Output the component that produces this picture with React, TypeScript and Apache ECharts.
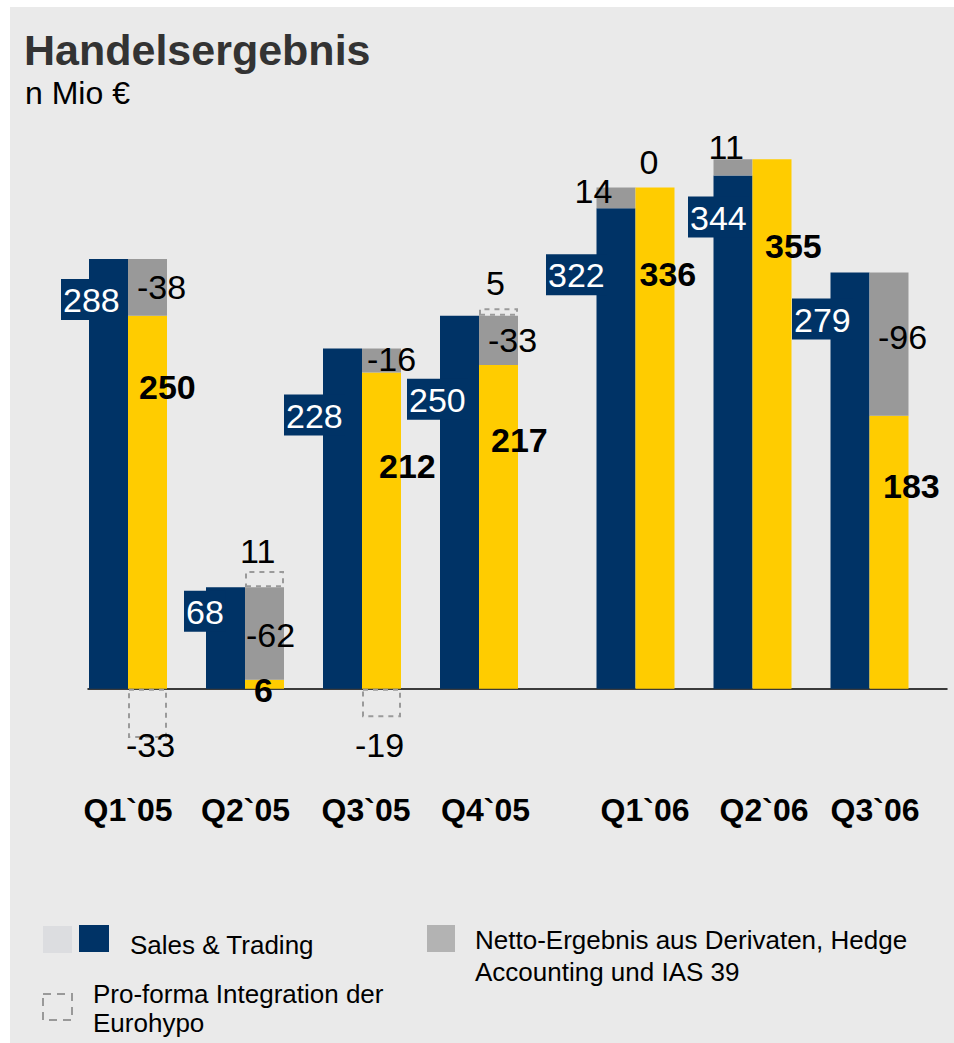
import React, { useEffect, useRef } from "react";
import * as echarts from "echarts";

// ---------------- data ----------------
const QUARTERS = ["Q1`05", "Q2`05", "Q3`05", "Q4`05", "Q1`06", "Q2`06", "Q3`06"];
const SALES_TRADING = [288, 68, 228, 250, 322, 344, 279];
const DERIVATIVES = [-38, -62, -16, -33, 14, 11, -96];
const TOTAL = [250, 6, 212, 217, 336, 355, 183];
const EUROHYPO: (number | null)[] = [-33, 11, -19, 5, 0, null, null];
const COUNT_2005 = 4;
const Y_MIN = -60;
const Y_MAX = 400;

// ---------------- label layout (px offsets from each bar's top-left) ----------------
const ST_LABEL_POS = [[-28, 20], [-22, 3.5], [-39, 46], [-33, 63], [-50.5, 46], [-25.5, 21], [-38.5, 26]];
const DERIV_LABEL_POS = [[9, 28], [1, 47.5], [5, 10], [9, 24], [-22, 3.5], [-5, -12], [8.5, 64]];
const TOTAL_LABEL_POS = [[11, 71], [9, 10], [17, 93.5], [12, 75], [4, 86.5], [12.5, 87], [13.5, 70]];
const EURO_LABEL_POS = [[-2, 56], [-5, -20], [-7, 56], [7, -25], [4, -25.5], [0, 0], [0, 0]];
// horizontal shift of each category label (px) relative to the bar pair centre
const CAT_LABEL_SHIFT = [0, 0.5, 4, 6.5, 9.5, 11.5, 5.5];

const NAVY = "#003366";
const YELLOW = "#ffcc00";
const GRAY = "#999999";
const BG = "#eaeaea";
const FONT = "'Liberation Sans', Arial, Helvetica, sans-serif";
const BAR_W = 39;
const NUM_SIZE = 34;

const GRID_TOP = 92;
const GRID_H = 686.3;

function buildSeries(g: number, start: number, end: number) {
  const idx: number[] = [];
  for (let i = start; i < end; i++) idx.push(i);
  const common = {
    type: "bar" as const,
    xAxisIndex: g,
    yAxisIndex: g,
    barWidth: BAR_W,
    barGap: "0%",
    emphasis: { disabled: true },
  };
  const numLabel = {
    show: true,
    align: "left",
    verticalAlign: "middle",
    fontFamily: FONT,
    fontSize: NUM_SIZE,
    color: "#000",
  };
  return [
    {
      ...common,
      name: "Sales & Trading",
      stack: "L" + g,
      itemStyle: { color: NAVY },
      label: {
        show: true,
        align: "left",
        verticalAlign: "top",
        fontFamily: FONT,
        fontSize: NUM_SIZE,
        lineHeight: 36,
        color: "#fff",
        backgroundColor: NAVY,
        padding: [3, 2, 2, 2],
      },
      data: idx.map((i) => ({ value: SALES_TRADING[i], label: { position: ST_LABEL_POS[i] } })),
    },
    {
      ...common,
      name: "Derivate positiv",
      stack: "L" + g,
      itemStyle: { color: GRAY },
      label: { ...numLabel, formatter: (p: any) => String(DERIVATIVES[start + p.dataIndex]) },
      data: idx.map((i) =>
        DERIVATIVES[i] > 0 ? { value: DERIVATIVES[i], label: { position: DERIV_LABEL_POS[i] } } : "-"
      ),
    },
    {
      ...common,
      name: "Handelsergebnis",
      stack: "R" + g,
      itemStyle: { color: YELLOW },
      label: { ...numLabel, fontWeight: "bold" },
      data: idx.map((i) => ({ value: TOTAL[i], label: { position: TOTAL_LABEL_POS[i] } })),
    },
    {
      ...common,
      name: "Derivate negativ",
      stack: "R" + g,
      itemStyle: { color: GRAY },
      label: { ...numLabel, formatter: (p: any) => String(DERIVATIVES[start + p.dataIndex]) },
      data: idx.map((i) =>
        DERIVATIVES[i] < 0 ? { value: -DERIVATIVES[i], label: { position: DERIV_LABEL_POS[i] } } : "-"
      ),
    },
    {
      ...common,
      name: "Eurohypo",
      stack: "R" + g,
      itemStyle: {
        color: "rgba(0,0,0,0)",
        borderColor: "#9a9a9a",
        borderWidth: 2,
        borderType: [5, 5],
      },
      label: { ...numLabel },
      data: idx.map((i) =>
        EUROHYPO[i] === null
          ? "-"
          : {
              value: EUROHYPO[i],
              label: { position: EURO_LABEL_POS[i] },
              itemStyle: EUROHYPO[i] === 0 ? { borderWidth: 0 } : undefined,
            }
      ),
    },
  ];
}

export default function App() {
  const ref = useRef<HTMLDivElement>(null);
  useEffect(() => {
    if (!ref.current) return;
    const chart = echarts.init(ref.current, undefined, { renderer: "svg" });
    const catStyle = { fontFamily: FONT, fontSize: 32, lineHeight: 32, fontWeight: "bold", color: "#000" };
    const catAxis = (cats: string[], g: number, offset: number) => {
      const rich: Record<string, any> = {};
      cats.forEach((_, k) => {
        rich["s" + k] = { ...catStyle, padding: [0, 0, 0, 2 * CAT_LABEL_SHIFT[offset + k]] };
      });
      return {
        type: "category" as const,
        gridIndex: g,
        data: cats,
        axisLine: { show: false, onZero: false },
        axisTick: { show: false },
        axisLabel: {
          interval: 0,
          hideOverlap: false,
          margin: 16,
          ...catStyle,
          formatter: (v: string, k: number) => `{s${k}|${v}}`,
          rich,
        },
      };
    };
    const valAxis = (g: number) => ({
      type: "value" as const,
      gridIndex: g,
      min: Y_MIN,
      max: Y_MAX,
      show: false,
    });
    chart.setOption({
      animation: false,
      backgroundColor: "transparent",
      grid: [
        { left: 69.5, width: 468, top: GRID_TOP, height: GRID_H },
        { left: 577, width: 351, top: GRID_TOP, height: GRID_H },
        { left: 88, width: 859, top: GRID_TOP, height: GRID_H },
      ],
      xAxis: [
        catAxis(QUARTERS.slice(0, COUNT_2005), 0, 0),
        catAxis(QUARTERS.slice(COUNT_2005), 1, COUNT_2005),
        {
          type: "value",
          gridIndex: 2,
          min: 0,
          max: 1,
          axisLine: { show: true, onZero: true, lineStyle: { color: "#000", width: 1.5 } },
          axisTick: { show: false },
          axisLabel: { show: false },
          splitLine: { show: false },
        },
      ],
      yAxis: [valAxis(0), valAxis(1), valAxis(2)],
      series: [
        ...buildSeries(0, 0, COUNT_2005),
        ...buildSeries(1, COUNT_2005, QUARTERS.length),
      ],
      graphic: [
        { type: "rect", z: -10, shape: { x: 10, y: 7, width: 944, height: 1036 }, style: { fill: BG } },
        {
          type: "text",
          x: 24,
          y: 50,
          style: { text: "Handelsergebnis", fontFamily: FONT, fontSize: 43, fontWeight: "bold", fill: "#333333", align: "left", verticalAlign: "middle" },
        },
        {
          type: "text",
          x: 25,
          y: 93,
          style: { text: "n Mio €", fontFamily: FONT, fontSize: 32, fill: "#000", align: "left", verticalAlign: "middle" },
        },
        // legend
        { type: "rect", shape: { x: 43, y: 926, width: 29, height: 27 }, style: { fill: "#dcdde0" } },
        { type: "rect", shape: { x: 79, y: 925, width: 30, height: 27 }, style: { fill: NAVY } },
        {
          type: "text",
          x: 130,
          y: 945,
          style: { text: "Sales & Trading", fontFamily: FONT, fontSize: 26, fill: "#000", align: "left", verticalAlign: "middle" },
        },
        {
          type: "rect",
          shape: { x: 43, y: 994, width: 29, height: 26 },
          style: { fill: "none", stroke: "#999", lineWidth: 2, lineDash: [8, 6] },
        },
        {
          type: "text",
          x: 93,
          y: 993.5,
          style: { text: "Pro-forma Integration der", fontFamily: FONT, fontSize: 26, fill: "#000", align: "left", verticalAlign: "middle" },
        },
        {
          type: "text",
          x: 93,
          y: 1022.5,
          style: { text: "Eurohypo", fontFamily: FONT, fontSize: 26, fill: "#000", align: "left", verticalAlign: "middle" },
        },
        { type: "rect", shape: { x: 427, y: 925, width: 28, height: 27 }, style: { fill: "#b3b3b3" } },
        {
          type: "text",
          x: 475,
          y: 940,
          style: { text: "Netto-Ergebnis aus Derivaten, Hedge", fontFamily: FONT, fontSize: 26, fill: "#000", align: "left", verticalAlign: "middle" },
        },
        {
          type: "text",
          x: 475,
          y: 972,
          style: { text: "Accounting und IAS 39", fontFamily: FONT, fontSize: 26, fill: "#000", align: "left", verticalAlign: "middle" },
        },
      ],
    });
    return () => chart.dispose();
  }, []);
  return (
    <div
      ref={ref}
      style={{ position: "absolute", left: 0, top: 0, width: 954, height: 1043, background: "#fff" }}
    />
  );
}
